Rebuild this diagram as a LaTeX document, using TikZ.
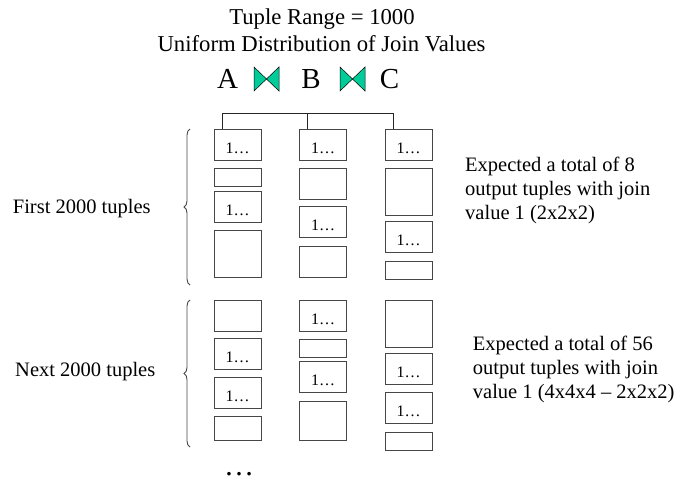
\documentclass[tikz,border=0pt]{standalone}
\usepackage{fontspec}
\setmainfont{Liberation Serif}
\usetikzlibrary{decorations.pathreplacing}
\definecolor{jointeal}{RGB}{0,204,153}
\definecolor{boxline}{RGB}{70,70,70}
\begin{document}
\begin{tikzpicture}[x=1pt,y=-1pt,
  box/.style={draw=boxline,line width=0.9pt,anchor=north west,inner sep=0pt,outer sep=0pt,
     minimum width=47pt,font=\fontsize{16}{18}\selectfont,text height=18pt,text depth=0pt},
  title/.style={font=\fontsize{22.7}{27}\selectfont,anchor=base,inner sep=0pt},
  rel/.style={font=\fontsize{29}{32}\selectfont,anchor=base,inner sep=0pt},
  body/.style={font=\fontsize{20.5}{24}\selectfont,inner sep=0pt},
  bowtie/.style={fill=jointeal,draw=black,line width=0.5pt,line join=miter},
  bracest/.style={draw=boxline,line width=0.9pt,decorate,decoration={brace,amplitude=6pt}},
  tree/.style={draw=black!85,line width=0.9pt}]
\useasboundingbox (0,0) rectangle (676,481);
% titles
\node[title] (t1) at (322,25) {Tuple Range = 1000};
\node[title] (t2) at (321.5,52) {Uniform Distribution of Join Values};
\node[rel] (A) at (227.5,88.3) {A};
\node[rel] (B) at (311,88.3) {B};
\node[rel] (C) at (389.5,88.3) {C};
\draw[bowtie] (254,67) -- (279,91) -- (279,67) -- (254,91) -- cycle;
\draw[bowtie] (340,67) -- (365,91) -- (365,67) -- (340,91) -- cycle;
% column A
\node[box,minimum height=31pt] (a1) at (214,129) {1…};
\node[box,minimum height=15pt] (a2) at (214,168) {};
\node[box,minimum height=31pt] (a3) at (214,191) {1…};
\node[box,minimum height=47pt] (a4) at (214,230) {};
\node[box,minimum height=31pt] (a5) at (214,300) {};
\node[box,minimum height=31pt] (a6) at (214,338) {1…};
\node[box,minimum height=31pt] (a7) at (214,377) {1…};
\node[box,minimum height=24pt] (a8) at (214,416) {};
% column B
\node[box,minimum height=31pt] (b1) at (299.5,129) {1…};
\node[box,minimum height=31pt] (b2) at (299.5,168) {};
\node[box,minimum height=31pt] (b3) at (299.5,206) {1…};
\node[box,minimum height=31pt] (b4) at (299.5,246) {};
\node[box,minimum height=31pt] (b5) at (299.5,300) {1…};
\node[box,minimum height=15pt] (b6) at (299.5,339) {};
\node[box,minimum height=31pt] (b7) at (299.5,361) {1…};
\node[box,minimum height=39pt] (b8) at (299.5,401) {};
% column C
\node[box,minimum height=31pt] (c1) at (385,129) {1…};
\node[box,minimum height=47pt] (c2) at (385,168) {};
\node[box,minimum height=31pt] (c3) at (385,221) {1…};
\node[box,minimum height=16pt] (c4) at (385,261) {};
\node[box,minimum height=47pt] (c5) at (385,300) {};
\node[box,minimum height=31pt] (c6) at (385,353) {1…};
\node[box,minimum height=31pt] (c7) at (385,392) {1…};
\node[box,minimum height=8pt] (c8) at (385,432) {};
% tree
\coordinate (tree) at (0,113.3);
\coordinate (ta) at ([xshift=8pt]a1.north west);
\coordinate (tb) at ([xshift=8pt]b1.north west);
\coordinate (tc) at ([xshift=8pt]c1.north west);
\draw[tree] (ta) -- (ta |- tree) -- (tc |- tree) -- (tc);
\draw[tree] (tb) -- (tb |- tree);
% braces
\coordinate (br1b) at (190,285);
\coordinate (br1t) at (190,129);
\coordinate (br2b) at (190,447);
\coordinate (br2t) at (190,300);
\draw[bracest] (br1b) -- (br1t);
\draw[bracest] (br2b) -- (br2t);
% left labels
\node[body,anchor=base west] (l1) at (12.7,213) {First 2000 tuples};
\node[body,anchor=base west] (l2) at (15,376.7) {Next 2000 tuples};
% right notes
\node[body,anchor=north west,align=left] (r1) at (465,156.5)
  {Expected a total of 8\\output tuples with join\\value 1 (2x2x2)};
\node[body,anchor=north west,align=left] (r2) at (472.7,335.8)
  {Expected a total of 56\\output tuples with join\\value 1 (4x4x4 – 2x2x2)};
% ellipsis
\node[rel,font=\fontsize{30}{32}\selectfont] (dots) at (239,475) {…};
\end{tikzpicture}
\end{document}
